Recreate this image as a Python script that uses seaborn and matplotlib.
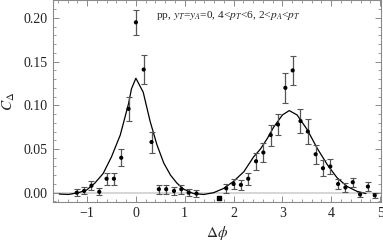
import numpy as np
import pandas as pd
import matplotlib
matplotlib.use("Agg")
import matplotlib.pyplot as plt
from matplotlib.ticker import MultipleLocator
import seaborn as sns

# measured correlation points
phi = [-1.21, -1.06, -0.91, -0.75, -0.60, -0.45, -0.30, -0.15, 0.00, 0.16,
       0.32, 0.47, 0.62, 0.78, 0.93, 1.08, 1.24, 1.85, 2.00, 2.15,
       2.30, 2.46, 2.61, 2.76, 2.91, 3.06, 3.21, 3.37, 3.52, 3.68,
       3.83, 3.98, 4.14, 4.29, 4.44, 4.59, 4.75, 4.89]
c_delta = [0.000, 0.002, 0.008, 0.001, 0.016, 0.016, 0.040, 0.096, 0.195, 0.141,
           0.058, 0.004, 0.004, 0.002, 0.004, 0.000, -0.001, 0.005, 0.010, 0.009,
           0.016, 0.036, 0.046, 0.066, 0.078, 0.120, 0.140, 0.082, 0.070, 0.044,
           0.028, 0.030, 0.010, 0.006, 0.012, -0.002, 0.007, -0.003]
c_err = [0.004, 0.004, 0.005, 0.004, 0.007, 0.007, 0.010, 0.014, 0.014, 0.017,
         0.012, 0.005, 0.005, 0.005, 0.005, 0.004, 0.004, 0.005, 0.006, 0.006,
         0.007, 0.010, 0.011, 0.012, 0.012, 0.017, 0.017, 0.014, 0.014, 0.011,
         0.009, 0.009, 0.006, 0.005, 0.005, 0.003, 0.005, 0.003]

# the single point drawn as a square
sq_phi = [1.70]
sq_c = [-0.006]

# model curve
curve_phi = [-1.57, -1.38, -1.18, -1.01, -0.84, -0.67, -0.50, -0.32, -0.15, -0.09,
             0.00, 0.15, 0.29, 0.43, 0.57, 0.71, 0.84, 0.98, 1.18, 1.39,
             1.59, 1.80, 2.00, 2.21, 2.41, 2.55, 2.69, 2.82, 3.00, 3.14,
             3.30, 3.51, 3.71, 3.92, 4.12, 4.33, 4.53, 4.71]
curve_c = [-0.0015, -0.002, 0.000, 0.003, 0.011, 0.022, 0.041, 0.066, 0.102, 0.119,
           0.131, 0.115, 0.082, 0.055, 0.034, 0.020, 0.011, 0.004, -0.001, -0.002,
           0.000, 0.005, 0.013, 0.024, 0.041, 0.050, 0.062, 0.075, 0.089, 0.094,
           0.089, 0.072, 0.051, 0.032, 0.017, 0.007, 0.0015, -0.001]

sns.set_style("ticks")
plt.rcParams['font.family'] = ['Liberation Serif', 'DejaVu Serif']
plt.rcParams['mathtext.fontset'] = 'stix'

frame_col = '#8a8a8a'

fig = plt.figure(figsize=(3.83, 2.45), dpi=100)
ax = fig.add_axes([0.138, 0.176, 0.857, 0.822])

ax.axhline(0, color='#d0d0d0', lw=1.2, zorder=0)

curve = pd.DataFrame({'phi': curve_phi, 'c': curve_c})
sns.lineplot(data=curve, x='phi', y='c', ax=ax, color='black', lw=0.9,
             sort=False, zorder=2)

ax.errorbar(phi, c_delta, yerr=c_err, fmt='none', ecolor='#555555',
            elinewidth=0.9, capsize=2.2, capthick=0.8, zorder=3)
pts = pd.DataFrame({'phi': phi, 'c': c_delta})
sns.scatterplot(data=pts, x='phi', y='c', ax=ax, color='black', s=9,
                edgecolor='none', zorder=4)
ax.scatter(sq_phi, sq_c, marker='s', s=9, color='black', zorder=4)

ax.set_xlim(-1.7, 5.02)
ax.set_ylim(-0.0105, 0.22)
ax.xaxis.set_major_locator(MultipleLocator(1))
ax.xaxis.set_minor_locator(MultipleLocator(0.2))
ax.yaxis.set_major_locator(MultipleLocator(0.05))
ax.yaxis.set_minor_locator(MultipleLocator(0.01))
ax.yaxis.set_major_formatter(matplotlib.ticker.FormatStrFormatter('%.2f'))

ax.tick_params(which='both', direction='in', top=True, right=True,
               color=frame_col, labelsize=10, labelcolor='#222222')
ax.tick_params(which='major', length=4, width=0.7)
ax.tick_params(which='minor', length=2, width=0.6)
for s in ax.spines.values():
    s.set_color(frame_col)
    s.set_linewidth(0.8)

ax.set_xlabel(r'$\Delta\phi$', fontsize=11, labelpad=3)
ax.set_ylabel(r'$C_\Delta$', fontsize=11, labelpad=5)

ax.text(0.42, 0.2025, r'pp, $y_T$=$y_A$=0, 4<$p_T$<6, 2<$p_A$<$p_T$',
        fontsize=8.2, color='#222222', va='center', ha='left')

fig.savefig('out.png', dpi=100)
